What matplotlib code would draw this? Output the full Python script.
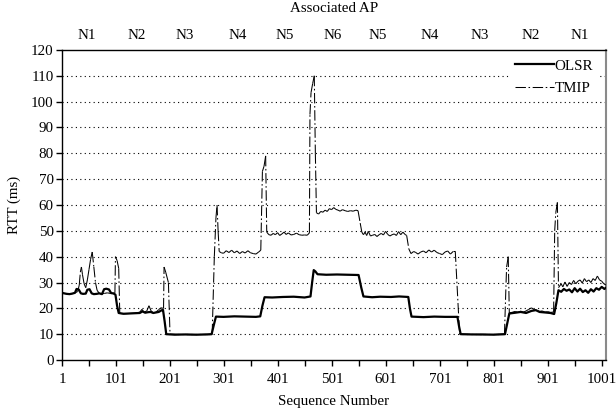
import matplotlib
matplotlib.use("Agg")
import matplotlib.pyplot as plt
from matplotlib.collections import LineCollection
from matplotlib.lines import Line2D

# ----------------------------------------------------------------------------------
# dane (numer sekwencji, RTT w ms)
olsr_seq = [1, 5, 10, 15, 20, 25, 28, 32, 36, 40, 45, 48, 52, 56, 60, 65, 70, 75, 79, 83, 88, 92, 96, 100, 103, 106,
            115, 125, 135, 145, 150, 155, 160, 165, 170, 175, 180, 185, 188, 191, 194,
            210, 230, 250, 270, 278, 282, 286,
            300, 320, 340, 360, 368, 372, 376,
            390, 410, 430, 450, 461, 464, 467, 470, 474,
            490, 510, 530, 550, 555, 559,
            575, 590, 610, 625, 642, 645, 648,
            670, 690, 710, 733, 736, 739,
            760, 780, 800, 821, 825, 829,
            840, 850, 860, 870, 878, 885, 895, 905, 912, 916, 920,
            925, 930, 935, 940, 945, 950, 955, 960, 965, 970, 975, 980, 985, 990, 995, 1000, 1005, 1008]
olsr_rtt = [26, 25.8, 25.6, 25.5, 25.7, 26, 27.5, 27.3, 25.8, 25.6, 25.7, 27.2, 27.4, 25.8, 25.5, 25.6, 25.8, 25.5,
            27.4, 27.6, 27.3, 25.9, 25.8, 25.3, 21, 18.2,
            17.9, 18, 18.1, 18.2, 18.8, 18.3, 18.5, 18.6, 18.2, 18.4, 18.6, 19.2, 19.4, 15, 10,
            9.8, 9.9, 9.8, 9.9, 10, 13.5, 16.8,
            16.7, 16.9, 16.8, 16.7, 16.9, 21, 24.3,
            24.2, 24.4, 24.5, 24.2, 24.6, 30, 34.8, 34.3, 33.2,
            33, 33.1, 33, 32.9, 28, 24.6,
            24.3, 24.5, 24.4, 24.6, 24.4, 20, 16.8,
            16.6, 16.8, 16.7, 16.7, 13, 10,
            9.9, 9.9, 9.8, 10, 14, 18,
            18.3, 18.6, 18.2, 19, 19.3, 18.6, 18.4, 18.2, 17.8, 22, 27,
            26.4, 27.5, 26.8, 27.3, 26.2, 27.8, 26.5, 27.6, 26.3, 27, 26, 27.4, 26.5, 27.8, 27.2, 28.3, 27.5, 28]

tmip_seq = [1, 5, 10, 15, 20, 25, 30, 33, 35, 37, 39, 42, 45, 48, 51, 54, 57, 60, 63, 66, 70, 75, 80, 85, 90, 95, 99,
            100, 103, 106, 108,
            115, 125, 135, 145, 149, 153, 158, 162, 166, 170, 175, 180, 184, 189,
            190, 193, 198, 201,
            220, 240, 260, 279, 283, 286, 288, 290, 292,
            296, 300, 305, 310, 315, 320, 325, 330, 335, 340, 345, 350, 355, 360, 365, 369,
            372, 375, 378, 380,
            384, 388, 392, 396, 400, 404, 408, 412, 416, 420, 425, 430, 435, 440, 445, 450, 455, 459,
            460, 462, 465, 468, 470, 472,
            476, 480, 484, 488, 492, 496, 500, 504, 508, 512, 516, 520, 525, 530, 535, 540, 545, 549, 553, 556, 559,
            562, 565, 568, 572, 576, 580, 584, 588, 592, 596, 600, 604, 608, 612, 616, 620, 624, 628, 632, 636, 639,
            643, 647,
            652, 656, 660, 665, 670, 675, 680, 685, 690, 695, 700, 705, 710, 715, 720, 725, 729, 737,
            760, 780, 800, 820, 823, 824, 827, 829,
            835, 840, 845, 850, 855, 860, 865, 870, 875, 880, 885, 890, 895, 900, 905, 911,
            913, 915, 918, 920,
            925, 928, 932, 936, 940, 944, 948, 952, 956, 960, 964, 968, 972, 976, 980, 984, 988, 992, 996, 1000,
            1004, 1008]
tmip_rtt = [26, 25.8, 25.6, 25.5, 25.7, 26, 26.5, 29, 34, 36, 33, 29.5, 28, 31, 35, 39, 41.8, 36, 30, 27, 25.8,
            25.6, 25.8, 26, 25.8, 25.7, 26,
            40, 38.5, 35.5, 18,
            17.9, 18, 18.1, 18.5, 19.6, 18.5, 19, 21, 19, 18.3, 18.5, 19.5, 20.2, 20,
            36, 34, 30, 10,
            9.9, 9.8, 9.9, 10, 40, 55, 60, 50, 42,
            41.5, 41.3, 42.3, 41.6, 42.5, 41.5, 42.2, 41.2, 42, 41.4, 42.3, 41.5, 41.2, 41, 41.8, 42.5,
            73, 75, 79, 49.5,
            48.5, 48.3, 49, 48.5, 49.3, 48.2, 48.8, 49.5, 48.6, 49.2, 48.4, 48.6, 49.1, 48.5, 48.3, 48.4, 48.3, 49.2,
            95, 103.5, 107, 110, 80, 57,
            56.5, 57.5, 57.2, 58, 57.5, 58.6, 58.2, 59, 58.3, 58, 57.6, 58.2, 57.8, 57.5, 57.8, 57.6, 58, 57.8, 53,
            49.5, 48.5,
            49.5, 48.2, 49.8, 48, 48.3, 48.6, 47.8, 48.5, 49, 48.4, 49.8, 48.6, 48, 48.5, 48.8, 48.2, 49.7, 48.5,
            49.5, 48.6, 48.2,
            43, 41.2,
            42, 41.6, 41, 41.8, 42.2, 41.5, 42.6, 41.8, 42.5, 41.6, 41.2, 40.8, 41.8, 42.2, 41, 42, 42, 10,
            9.9, 9.8, 9.9, 10, 30, 36, 40, 18.2,
            18.5, 18.8, 18.4, 18.9, 18.5, 19, 19.6, 20.2, 19.5, 19.2, 18.8, 19, 18.5, 18.7, 18.4, 18.6,
            50, 57, 61, 28,
            29.5, 28.3, 30.2, 28.5, 30, 29.2, 30.8, 29.5, 30.5, 31, 29.8, 31.5, 30.3, 31, 30, 31.5, 30.8, 32.5, 31,
            30.5, 29.5, 29]

# etykiety punktów dostępowych nad wykresem
ap_labels = ["N1", "N2", "N3", "N4", "N5", "N6", "N5", "N4", "N3", "N2", "N1"]
ap_pos = [47, 140, 229, 327, 414, 503, 586, 682, 775, 868, 960]

x_major = list(range(1, 1002, 100))
x_minor = list(range(51, 1002, 100))
y_ticks = list(range(0, 121, 10))

# ----------------------------------------------------------------------------------
plt.rcParams['font.family'] = ['Liberation Serif', 'DejaVu Serif']
fs = 10.8

fig = plt.figure(figsize=(6.16, 4.13), dpi=100)
ax = fig.add_axes([0.1006, 0.1283, 0.8832, 0.7507])

# linie siatki
for yv in y_ticks[1:-1]:
    ax.axhline(yv, color='k', lw=0.8, ls=(0, (1, 3)), zorder=1)

# TMIP - kazdy odcinek osobno, zeby wzor kreskowy zaczynal sie od nowa (jak w Excelu)
tmip_dash = (0, (10, 2.5, 1.5, 2.5))
segs = [[(tmip_seq[i], tmip_rtt[i]), (tmip_seq[i + 1], tmip_rtt[i + 1])] for i in range(len(tmip_seq) - 1)]
lc = LineCollection(segs, colors='k', linewidths=0.75, linestyles=[tmip_dash], zorder=3)
ax.add_collection(lc)

# OLSR
ax.plot(olsr_seq, olsr_rtt, color='k', lw=1.6, zorder=4)

ax.set_xlim(1, 1008)
ax.set_ylim(0, 120)
ax.set_xticks(x_major)
ax.set_xticks(x_minor, minor=True)
ax.set_yticks(y_ticks)
ax.tick_params(axis='both', which='both', direction='out', length=4, width=1, color='k', labelsize=fs)
ax.tick_params(axis='x', pad=5)
ax.tick_params(axis='y', pad=2)

for s in ['left', 'bottom', 'top']:
    ax.spines[s].set_color('k')
    ax.spines[s].set_linewidth(1.0)
ax.spines['right'].set_color('#8a8a8a')
ax.spines['right'].set_linewidth(1.5)

ax.set_xlabel("Sequence Number", fontsize=fs, labelpad=7)
ax.set_ylabel("RTT (ms)", fontsize=fs, labelpad=7)

# etykiety AP u gory
for lab, p in zip(ap_labels, ap_pos):
    ax.text(p, 1.048, lab, transform=ax.get_xaxis_transform(), ha='center', va='center', fontsize=fs)
ax.text(0.5, 1.133, "Associated AP", transform=ax.transAxes, ha='center', va='center', fontsize=fs)

# legenda
handles = [Line2D([], [], color='k', lw=1.6),
           Line2D([], [], color='k', lw=0.75, ls=tmip_dash)]
leg = ax.legend(handles, ["OLSR", "TMIP"], loc='upper right', bbox_to_anchor=(0.99, 0.995),
                fontsize=fs, frameon=True, handlelength=2.6, handletextpad=0.05,
                labelspacing=0.6, borderaxespad=0.2, borderpad=0.3)
leg.get_frame().set_edgecolor('none')
leg.get_frame().set_facecolor('white')
leg.get_frame().set_alpha(1)
leg.set_zorder(5)

fig.savefig("out.png", dpi=100)
